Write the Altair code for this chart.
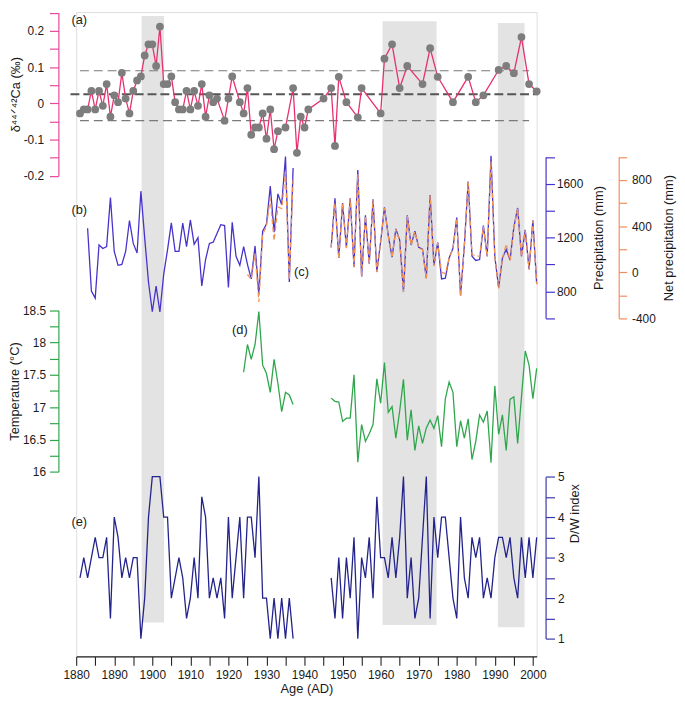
import json
import altair as alt
import pandas as pd

FONT = "Liberation Sans"

# ---------------- data ----------------
# (a) Ca isotope record
ca_years = [1881, 1882, 1883, 1884, 1885, 1886, 1887, 1888, 1889, 1890,
            1891, 1892, 1893, 1894, 1895, 1896, 1897, 1898, 1899, 1900,
            1901, 1902, 1903, 1904, 1905, 1906, 1907, 1908, 1909, 1910,
            1911, 1912, 1913, 1914, 1915, 1916, 1917, 1919, 1920, 1921,
            1923, 1924, 1925, 1926, 1927, 1928, 1929, 1930, 1931, 1932,
            1933, 1935, 1937, 1938, 1939, 1940, 1941, 1945, 1947, 1948,
            1949, 1951, 1954, 1955, 1960, 1961, 1963, 1965, 1967, 1971,
            1973, 1975, 1979, 1983, 1985, 1987, 1991, 1993, 1995, 1997,
            1999, 2001]
ca_vals = [-0.028, -0.017, -0.017, 0.034, -0.017, 0.034, -0.007, 0.053, -0.037, 0.022,
           0.003, 0.084, 0.013, -0.028, 0.034, 0.063, 0.074, 0.132, 0.163, 0.163,
           0.103, 0.212, 0.053, 0.053, 0.074, 0.003, -0.017, -0.017, 0.034, -0.017,
           0.034, -0.007, 0.053, -0.037, 0.022, 0.003, 0.013, -0.048, 0.013, 0.074,
           0.003, -0.028, 0.042, -0.087, -0.067, -0.067, -0.028, -0.098, -0.017, -0.127,
           -0.077, -0.067, 0.042, -0.137, -0.037, -0.067, -0.017, 0.013, 0.042, -0.118,
           0.073, 0.003, -0.039, 0.042, -0.028, 0.123, 0.163, 0.042, 0.103, 0.053,
           0.152, 0.073, 0.003, 0.073, 0.003, 0.022, 0.092, 0.103, 0.083, 0.183,
           0.053, 0.033]
ca_band_levels = [0.09, -0.048]        # dashed envelope
ca_band_span = [1881, 1999]
ca_mean_level = [0.025]                # dashed mean
ca_mean_span = [1878.5, 2001.4]

# (b) precipitation (mm)
prec_years_1 = list(range(1883, 1917)) + list(range(1918, 1938))
prec_vals_1 = [1270, 803, 750, 1145, 1119, 1133, 1497, 1097, 994, 1001,
               1097, 1327, 1157, 1085, 1545, 1198, 870, 649, 839, 647,
               929, 1109, 1310, 1097, 1097, 1308, 1133, 1331, 1150, 1200,
               841, 1037, 1157, 1166,
               1296, 1289, 829, 1313, 1061, 994, 1133, 1001, 893, 1138,
               774, 1248, 1301, 1583, 1241, 1525, 1444, 1803, 870, 1717]
prec_years_2 = list(range(1947, 2002))
prec_vals_2 = [1128, 1492, 1049, 1456, 1126, 1492, 982, 1703, 910, 1365,
               1006, 1485, 946, 1169, 1425, 1217, 1054, 1265, 1181, 798,
               1365, 1145, 1248, 1128, 1114, 898, 1516, 994, 1164, 893,
               898, 1049, 1121, 1349, 769, 1145, 1617, 1061, 1030, 1037,
               1289, 1061, 1808, 1061, 827, 1049, 1114, 1033, 1277, 1420,
               1061, 1257, 965, 1329, 855]

# (c) net precipitation (mm)
net_years_1 = list(range(1925, 1938))
net_vals_1 = [-20, -62, 161, -257, 329, 398, 638, 273, 566, 552, 873, -62, 806]
net_years_2 = list(range(1947, 2002))
net_vals_2 = [212, 600, 120, 594, 209, 636, 42, 850, -42, 488,
              69, 628, 0, 259, 557, 315, 126, 371, 273, -173,
              488, 231, 351, 212, 195, -56, 664, 55, 254, 0,
              -12, 120, 203, 469, -207, 231, 781, 156, 139, 140,
              398, 134, 960, 134, -140, 120, 245, 100, 385, 552,
              134, 362, 22, 446, -104]

# (d) temperature (deg C)
temp_years_1 = list(range(1924, 1938))
temp_vals_1 = [17.54, 17.97, 17.74, 17.97, 18.48, 17.65, 17.52, 17.23, 17.74, 17.37,
               16.93, 17.23, 17.19, 17.04]
temp_years_2 = list(range(1947, 1997)) + [1998, 1999, 2000, 2001]
temp_vals_2 = [17.14, 17.09, 17.08, 16.78, 16.83, 16.83, 17.50, 16.15, 16.73, 16.47,
               16.59, 16.73, 17.44, 17.06, 17.69, 16.92, 17.01, 16.52, 16.94, 17.43,
               16.49, 16.96, 16.33, 16.71, 16.44, 16.68, 16.80, 16.67, 16.87, 16.39,
               17.13, 17.39, 17.23, 16.39, 16.79, 16.52, 16.82, 16.19, 16.47, 16.88,
               16.77, 16.94, 16.14, 17.33, 16.58, 16.88, 16.33, 17.12, 17.16, 16.44,
               17.87, 17.65, 17.13, 17.60]

# (e) dryness/wetness index
dw_years_1 = list(range(1881, 1938))
dw_vals_1 = [2.5, 3, 2.5, 3, 3.5, 3, 3, 3.5, 1.5, 4,
             3.5, 2.5, 3, 2.5, 3, 3, 1, 2, 4, 5,
             5, 5, 4, 4, 2, 2.5, 3, 2.5, 1.5, 2,
             3, 2, 4.5, 4, 2, 2.5, 2, 2.5, 1.5, 4,
             2, 3, 4, 2, 4, 4, 3, 5, 2, 2,
             1, 2, 1, 2, 1, 2, 1]
dw_years_2 = list(range(1947, 2002))
dw_vals_2 = [2.5, 1.5, 3, 1.5, 3, 2, 3.5, 1, 3, 2.5,
             3.5, 2, 4.5, 3, 3, 2.5, 3.5, 2.5, 3.5, 5,
             2, 3, 1.5, 2, 3.5, 5, 1.5, 4, 3, 4,
             4, 3, 2, 1.5, 4, 2.5, 2, 3.5, 3, 3.5,
             2, 2.5, 2, 3, 3.5, 3.5, 3, 3.5, 2.5, 2,
             3.5, 2.5, 3.5, 2.5, 3.5]

# shaded intervals (years)
band_start = [1897.2, 1960.5, 1990.8]
band_end = [1903.1, 1974.7, 1997.8]

# panel tags: (label, year, value on the panel's own scale)
tag_text = ["(a)", "(b)", "(c)", "(d)", "(e)"]
tag_year = [1880.8, 1880.8, 1939.2, 1923.0, 1880.8]
tag_value = [0.23, 1406, 0, 18.19, 3.89]

# ---------------- styling ----------------
PINK_AXIS = "#e8479a"
PINK_LINE = "#e8306f"
BLUE = "#4632cc"
ORANGE_AXIS = "#f28c62"
ORANGE_LINE = "#f39654"
GREEN = "#2fa64c"
NAVY = "#23238c"
NAVY_AXIS = "#3a38a8"
GRAY_BAND = "#e3e3e3"
TEXT = "#1a1a1a"

band_px = [(3.9, 617.8), (9.2, 620.2), (11.1, 622.4)]

xscale = alt.Scale(domain=[1880, 2001], nice=False, zero=False)
xaxis = alt.Axis(values=list(range(1880, 2001, 5)),
                 labelExpr="datum.value % 10 == 0 ? toString(datum.value) : ''",
                 title="Age (AD)", tickSize=9, labelPadding=4, titlePadding=3,
                 domainColor="#222", tickColor="#222", labelColor=TEXT, titleColor=TEXT,
                 labelFont=FONT, titleFont=FONT, labelFontSize=12, titleFontSize=13,
                 titleFontWeight="normal", labelFlush=False, labelOverlap=False,
                 grid=False, domainWidth=1.1, tickWidth=1.1)


def xenc():
    return alt.X("year:Q", scale=xscale, axis=xaxis)


def yaxis(orient, offset, values, labels, color, title, tick=9, pad=4, tpad=3, **kw):
    expr = "indexof(%s, datum.value) >= 0 ? toString(datum.value) : ''" % json.dumps(labels)
    return alt.Axis(orient=orient, offset=offset, values=values, labelExpr=expr,
                    title=title, tickSize=tick, labelPadding=pad, titlePadding=tpad,
                    domainColor=color, tickColor=color, labelColor=TEXT, titleColor=TEXT,
                    labelFont=FONT, titleFont=FONT, labelFontSize=12, titleFontSize=13,
                    titleFontWeight="normal", titleAngle=270,
                    titleBaseline="bottom" if orient == "left" else "top",
                    grid=False, labelOverlap=False, domainWidth=1.2, tickWidth=1.2, **kw)


def yenc(domain, rng, axis):
    return alt.Y("v:Q", scale=alt.Scale(domain=domain, range=rng, nice=False, zero=False),
                 axis=axis)


def segs(years_list, vals_list):
    rows = []
    for i, (ys, vs) in enumerate(zip(years_list, vals_list)):
        for y, v in zip(ys, vs):
            rows.append({"year": y, "v": v, "seg": i})
    return pd.DataFrame(rows)


def tag(i, y_enc):
    df = pd.DataFrame({"year": [tag_year[i]], "v": [tag_value[i]], "t": [tag_text[i]]})
    return alt.Chart(df).mark_text(font=FONT, fontSize=13, color=TEXT).encode(
        x=xenc(), y=y_enc, text="t:N")


# ---------------- bands ----------------
bands = []
for s, e, (top, bot) in zip(band_start, band_end, band_px):
    bands.append(
        alt.Chart(pd.DataFrame({"year": [s], "x2": [e]})).mark_rect(color=GRAY_BAND).encode(
            x=xenc(), x2="x2:Q", y=alt.value(top), y2=alt.value(bot)))

# ---------------- (a) ----------------
ax_a = yaxis("left", 18, [-0.2, -0.15, -0.1, -0.05, 0, 0.05, 0.1, 0.15, 0.2, 0.25],
             [-0.2, -0.1, 0, 0.1, 0.2], PINK_AXIS, "δ⁴⁴ᐟ⁴²Ca (‰)", pad=6, tpad=1)
ya = yenc([-0.2, 0.25], [165.5, 0.7], ax_a)
df_ca = pd.DataFrame({"year": ca_years, "v": ca_vals})
df_env = pd.DataFrame({"year": [ca_band_span[0]] * 2, "x2": [ca_band_span[1]] * 2,
                       "v": ca_band_levels})
df_mean = pd.DataFrame({"year": [ca_mean_span[0]], "x2": [ca_mean_span[1]], "v": ca_mean_level})
group_a = alt.layer(
    alt.Chart(df_env).mark_rule(color="#7a7a7a", strokeWidth=1.1, strokeDash=[9, 5]).encode(
        x=xenc(), x2="x2:Q", y=ya),
    alt.Chart(df_mean).mark_rule(color="#555555", strokeWidth=2, strokeDash=[9, 4]).encode(
        x=xenc(), x2="x2:Q", y=ya),
    alt.Chart(df_ca).mark_line(color=PINK_LINE, strokeWidth=1.3).encode(x=xenc(), y=ya),
    alt.Chart(df_ca).mark_circle(size=62, color="#7d7d7d", opacity=1).encode(x=xenc(), y=ya),
    tag(0, ya),
)

# ---------------- (b) ----------------
ax_b = yaxis("right", 9, list(range(600, 1801, 200)), [800, 1200, 1600], BLUE,
             "Precipitation (mm)", pad=2, tpad=10)
yb = yenc([600, 1800], [309.9, 146.5], ax_b)
df_b = segs([prec_years_1, prec_years_2], [prec_vals_1, prec_vals_2])
group_b = alt.layer(
    alt.Chart(df_b).mark_line(color=BLUE, strokeWidth=1.3).encode(x=xenc(), y=yb, detail="seg:N"),
    tag(1, yb),
)

# ---------------- (c) ----------------
ax_c = yaxis("right", 83, list(range(-400, 1001, 200)), [-400, 0, 400, 800], ORANGE_AXIS,
             "Net precipitation (mm)", tick=8, pad=5, tpad=7)
yc = yenc([-400, 1000], [309.9, 146.5], ax_c)
df_c = segs([net_years_1, net_years_2], [net_vals_1, net_vals_2])
group_c = alt.layer(
    alt.Chart(df_c).mark_line(color=ORANGE_LINE, strokeWidth=1.3, strokeDash=[5, 3]).encode(
        x=xenc(), y=yc, detail="seg:N"),
    tag(2, yc),
)

# ---------------- (d) ----------------
ax_d = yaxis("left", 18, [16 + 0.25 * i for i in range(11)], [16, 16.5, 17, 17.5, 18, 18.5],
             GREEN, "Temperature  (°C)", pad=4, tpad=1)
yd = yenc([16, 18.5], [465.2, 301.7], ax_d)
df_d = segs([temp_years_1, temp_years_2], [temp_vals_1, temp_vals_2])
group_d = alt.layer(
    alt.Chart(df_d).mark_line(color=GREEN, strokeWidth=1.3).encode(x=xenc(), y=yd, detail="seg:N"),
    tag(3, yd),
)

# ---------------- (e) ----------------
ax_e = yaxis("right", 9, [1 + 0.5 * i for i in range(9)], [1, 2, 3, 4, 5], NAVY_AXIS,
             "D/W index", pad=3, tpad=5, titleY=507)
ye = yenc([1, 5], [634.0, 470.1], ax_e)
df_e = segs([dw_years_1, dw_years_2], [dw_vals_1, dw_vals_2])
group_e = alt.layer(
    alt.Chart(df_e).mark_line(color=NAVY, strokeWidth=1.3).encode(x=xenc(), y=ye, detail="seg:N"),
    tag(4, ye),
)

chart = alt.layer(*bands, group_b, group_c, group_d, group_e, group_a).resolve_scale(
    y="independent"
).properties(
    width=466, height=652,
    padding={"left": 69, "top": 0, "right": 142, "bottom": 41},
    autosize=alt.AutoSizeParams(type="none"),
).configure_view(stroke=None).configure(font=FONT)

chart.save("out.html", embed_options={"renderer": "svg", "actions": False})
